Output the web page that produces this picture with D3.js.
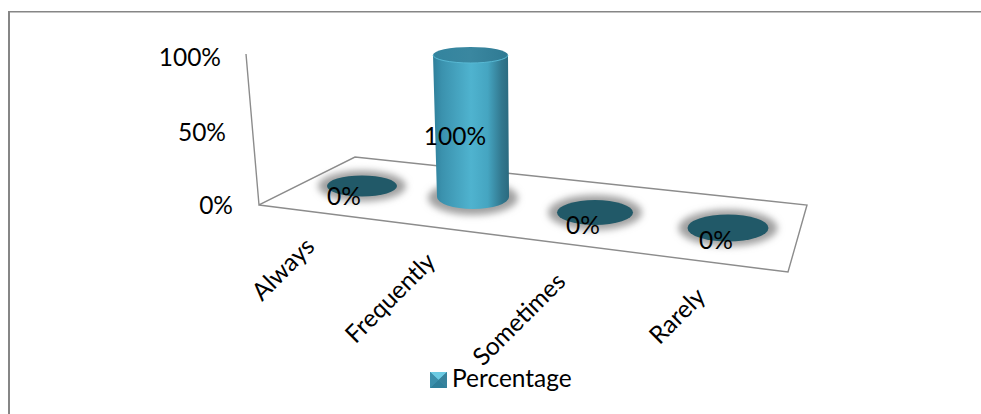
<!DOCTYPE html>
<html><head><meta charset="utf-8">
<script src="https://cdn.jsdelivr.net/npm/d3@7"></script>
<style>html,body{margin:0;padding:0;background:#fff}svg{display:block}text{font-family:Lato,"Open Sans",sans-serif;fill:#000}</style>
</head><body><svg id="c" width="981" height="414"></svg>
<script>
const categories = ["Always","Frequently","Sometimes","Rarely"];
const percentage = [0,1,0,0];
const valueTicks = [0,0.5,1];
const seriesName = "Percentage";

const svg = d3.select("#c");
const defs = svg.append("defs");
const grad = (id, stops, x2=1,y2=0) => {
  const g = defs.append("linearGradient").attr("id",id).attr("x1",0).attr("y1",0).attr("x2",x2).attr("y2",y2);
  stops.forEach(([o,c])=>g.append("stop").attr("offset",o).attr("stop-color",c));
};
grad("body",[[0,"#2f7f9a"],[0.12,"#3b92ae"],[0.5,"#4fb3cf"],[0.72,"#45a5c1"],[0.9,"#32788f"],[1,"#2b6a7f"]]);
grad("top",[[0,"#33849e"],[0.5,"#3a87a0"],[1,"#2f7a93"]]);
defs.append("filter").attr("id","blur").attr("x","-30%").attr("y","-60%").attr("width","160%").attr("height","220%")
  .append("feGaussianBlur").attr("stdDeviation",3.5);

// frame
svg.append("path").attr("d","M9,414V11").attr("fill","none").attr("stroke","#868686").attr("stroke-width",2);
svg.append("path").attr("d","M8,11.7H981").attr("fill","none").attr("stroke","#868686").attr("stroke-width",1.5);

// scales (perspective positions along the floor)
const cx = d3.scaleLinear().domain([0,1,2,3]).range([362,473,595,728]);
const cy = d3.scaleLinear().domain([0,1,2,3]).range([186,197,212.5,228]);
const rx = d3.scaleLinear().domain([0,1,2,3]).range([35,36,38,40.5]);
const ry = d3.scaleLinear().domain([0,1,2,3]).range([10.5,12,12.5,13.5]);
const yAxis = d3.scaleLinear().domain([0,0.5,1]).range([206,133,58]);
const axisRight = d3.scaleLinear().domain([0,0.5,1]).range([233,226,221]);
const barH = d3.scaleLinear().domain([0,1]).range([0,142]);

// walls and floor
const line = d3.line();
svg.append("path").attr("d",line([[246,54],[259,205],[355,157],[807,205],[788,272],[259,205]]))
  .attr("fill","none").attr("stroke","#8c8c8c").attr("stroke-width",1.4);

// axis labels
svg.append("g").selectAll("text").data(valueTicks).join("text")
  .attr("x",d=>axisRight(d)).attr("y",d=>yAxis(d)+8).attr("text-anchor","end").attr("font-size",24.5)
  .text(d3.format(".0%"));

// marks
const marks = svg.append("g").selectAll("g").data(categories).join("g");
marks.append("ellipse").attr("cx",(d,i)=>cx(i)).attr("cy",(d,i)=>cy(i)+(percentage[i]?1:0))
  .attr("rx",(d,i)=>rx(i)+9).attr("ry",(d,i)=>ry(i)+5)
  .attr("fill","#a0a0a0").attr("filter","url(#blur)");
marks.each(function(d,i){
  const g=d3.select(this), h=barH(percentage[i]), x=cx(i), y=cy(i), a=rx(i), b=ry(i);
  if(h>0){
    const tx=x-2.5, ta=a+1.5;
    g.append("path").attr("d",`M${tx-ta},${y-h}L${x-a},${y}A${a},${b} 0 0 0 ${x+a},${y}L${tx+ta},${y-h}Z`).attr("fill","url(#body)");
    g.append("ellipse").attr("cx",tx).attr("cy",y-h).attr("rx",ta).attr("ry",8).attr("fill","url(#top)");
    g.append("path").attr("d",`M${tx-ta},${y-h}A${ta},8 0 0 0 ${tx+ta},${y-h}`).attr("fill","none").attr("stroke","#58b9d4").attr("stroke-width",1);
  } else {
    g.append("ellipse").attr("cx",x).attr("cy",y).attr("rx",a).attr("ry",b).attr("fill","#215968");
  }
});

// data labels
const labelX = d3.scaleLinear().domain([0,1,2,3]).range([344,455,583,716]);
const labelY = d3.scaleLinear().domain([0,1,2,3]).range([205,145,234,249]);
svg.append("g").selectAll("text").data(percentage).join("text")
  .attr("x",(d,i)=>labelX(i)).attr("y",(d,i)=>labelY(i)).attr("text-anchor","middle").attr("font-size",24.5)
  .text(d3.format(".0%"));

// category labels
const catX = d3.scaleLinear().domain([0,1,2,3]).range([316,437,567,707]);
const catY = d3.scaleLinear().domain([0,1,2,3]).range([248,263,283,298]);
svg.append("g").selectAll("text").data(categories).join("text")
  .attr("transform",(d,i)=>`translate(${catX(i)},${catY(i)}) rotate(-45)`)
  .attr("text-anchor","end").attr("font-size",24.5).text(d=>d);

// legend
const lg = svg.append("g").attr("transform","translate(430,372)");
lg.append("rect").attr("width",17).attr("height",16).attr("fill","#3b8fab");
lg.append("path").attr("d","M0,0H17L8.5,8Z").attr("fill","#6ccbe3");
lg.append("path").attr("d","M0,16H17L8.5,8Z").attr("fill","#2f7f9a");
lg.append("path").attr("d","M0,0V16L8.5,8Z").attr("fill","#3b8fab");
lg.append("path").attr("d","M17,0V16L8.5,8Z").attr("fill","#37829c");
lg.append("text").attr("x",22).attr("y",15).attr("font-size",24.5).text(seriesName);
</script></body></html>
